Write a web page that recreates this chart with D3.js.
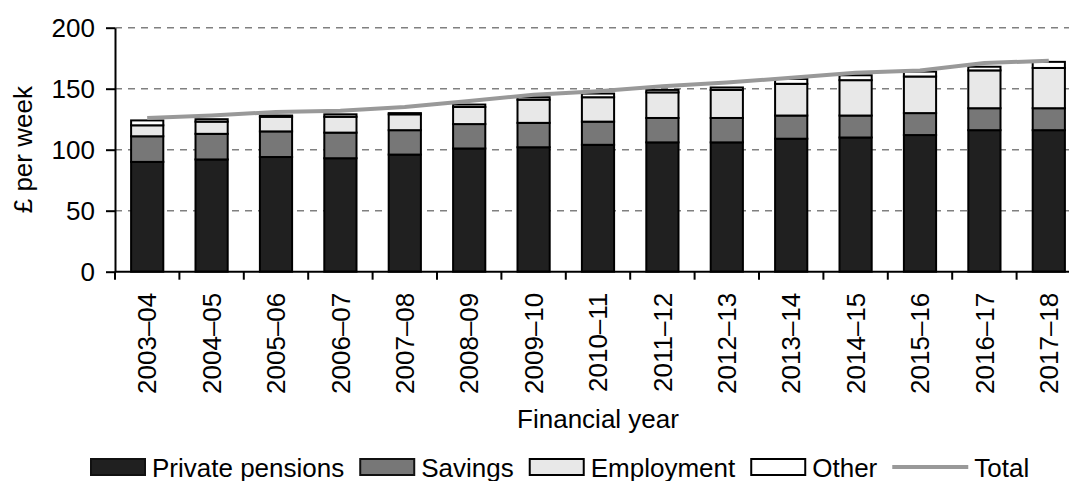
<!DOCTYPE html>
<html>
  <head>
    <meta charset="utf-8">
    <script src="https://d3js.org/d3.v7.min.js"></script>
    <title>Income sources</title>
    <style type="text/css">
      body { margin: 0; background: #fff; }
      svg { display: block; font-family: "Liberation Sans", Arial, sans-serif; }
      .grid line { stroke: #808080; stroke-width: 1.5; stroke-dasharray: 7 6; }
      .axis path, .axis line { stroke: #000; stroke-width: 2; }
      .axis text { font-size: 26px; fill: #000; font-family: "Liberation Sans", Arial, sans-serif; }
    </style>
  </head>
  <body>
    <div id="chart"></div>
    <script type="text/javascript">
      var years = ["2003–04", "2004–05", "2005–06", "2006–07", "2007–08", "2008–09", "2009–10",
                   "2010–11", "2011–12", "2012–13", "2013–14", "2014–15", "2015–16", "2016–17", "2017–18"];
      var privatePensions = [90, 92, 94, 93, 96, 101, 102, 104, 106, 106, 109, 110, 112, 116, 116];
      var savings = [21, 21, 21, 21, 20, 20, 20, 19, 20, 20, 19, 18, 18, 18, 18];
      var employment = [9, 10, 12, 13, 13, 14, 19, 20, 21, 23, 26, 29, 30, 31, 33];
      var other = [4, 2, 1, 2, 1, 2, 2, 3, 2, 2, 4, 4, 4, 3, 5];
      var total = [126, 128, 131, 132, 135, 140, 145, 148, 152, 155, 159, 163, 165, 171, 173];
      var yTicks = [0, 50, 100, 150, 200];

      var seriesNames = ["Private pensions", "Savings", "Employment", "Other"],
          seriesColors = ["#202020", "#777777", "#e8e8e8", "#ffffff"];

      var width = 1069, height = 481,
          plotLeft = 115, plotTop = 27.7, plotBottom = 271.7,
          step = 64.4;

      var rows = years.map(function(y, i) {
        return {year: y, "Private pensions": privatePensions[i], "Savings": savings[i],
                "Employment": employment[i], "Other": other[i], total: total[i]};
      });

      var x = d3.scaleBand().domain(years)
        .range([plotLeft, plotLeft + step * years.length])
        .paddingInner(0.5).paddingOuter(0.25);
      var y = d3.scaleLinear().domain([0, 200]).range([plotBottom, plotTop]);

      var svg = d3.select("#chart").append("svg")
        .attr("width", width)
        .attr("height", height);

      // dashed gridlines
      svg.append("g").attr("class", "grid")
        .selectAll("line")
        .data(yTicks.filter(function(d) { return d > 0; }))
        .enter().append("line")
          .attr("x1", plotLeft).attr("x2", width)
          .attr("y1", function(d) { return y(d); })
          .attr("y2", function(d) { return y(d); });

      var stack = d3.stack().keys(seriesNames)(rows);

      svg.append("g").selectAll("g")
        .data(stack)
        .enter().append("g")
          .attr("fill", function(d, i) { return seriesColors[i]; })
          .attr("stroke", "#000")
          .attr("stroke-width", 2)
        .selectAll("rect")
        .data(function(d) { return d; })
        .enter().append("rect")
          .attr("x", function(d) { return x(d.data.year); })
          .attr("width", x.bandwidth())
          .attr("y", function(d) { return y(d[1]); })
          .attr("height", function(d) { return y(d[0]) - y(d[1]); });

      var line = d3.line()
        .x(function(d) { return x(d.year) + x.bandwidth() / 2; })
        .y(function(d) { return y(d.total); });

      svg.append("path")
        .datum(rows)
        .attr("d", line)
        .attr("fill", "none")
        .attr("stroke", "#999999")
        .attr("stroke-width", 4);

      // y axis
      svg.append("g").attr("class", "axis")
        .attr("transform", "translate(" + plotLeft + ",0)")
        .call(d3.axisLeft(y).tickValues(yTicks).tickSize(9).tickPadding(11).tickSizeOuter(0));

      // x axis, ticks sit between the categories
      var xAxis = svg.append("g").attr("class", "axis");
      xAxis.append("line")
        .attr("x1", plotLeft).attr("x2", width)
        .attr("y1", plotBottom).attr("y2", plotBottom);
      xAxis.selectAll(".xt")
        .data(years)
        .enter().append("line")
          .attr("class", "xt")
          .attr("x1", function(d) { return x(d) - x.step() * 0.25; })
          .attr("x2", function(d) { return x(d) - x.step() * 0.25; })
          .attr("y1", plotBottom).attr("y2", plotBottom + 8);
      xAxis.selectAll("text")
        .data(years)
        .enter().append("text")
          .attr("transform", function(d) {
            return "translate(" + (x(d) + x.bandwidth() / 2) + "," + (plotBottom + 21) + ") rotate(-90)";
          })
          .attr("text-anchor", "end")
          .attr("dy", "0.35em")
          .text(function(d) { return d; });

      svg.append("text")
        .attr("x", (x.range()[0] + x.range()[1]) / 2).attr("y", 428)
        .attr("text-anchor", "middle")
        .style("font-size", "26px")
        .text("Financial year");

      svg.append("text")
        .attr("transform", "translate(32," + ((plotTop + plotBottom) / 2) + ") rotate(-90)")
        .attr("text-anchor", "middle")
        .style("font-size", "26px")
        .text("£ per week");

      // legend, laid out left to right
      var legendItems = [
        {name: "Private pensions", type: "rect", fill: seriesColors[0], stroke: "#111"},
        {name: "Savings", type: "rect", fill: seriesColors[1], stroke: "#111"},
        {name: "Employment", type: "rect", fill: seriesColors[2], stroke: "#000"},
        {name: "Other", type: "rect", fill: seriesColors[3], stroke: "#000"},
        {name: "Total", type: "line"}
      ];
      var legendG = svg.append("g").attr("transform", "translate(0,458)");
      var cursor = 90;
      legendItems.forEach(function(d) {
        var g = legendG.append("g").attr("transform", "translate(" + cursor + ",0)");
        var keyW;
        if (d.type === "rect") {
          keyW = 56;
          g.append("rect")
            .attr("x", 1).attr("y", 1)
            .attr("width", keyW - 2).attr("height", 16)
            .attr("fill", d.fill)
            .attr("stroke", d.stroke)
            .attr("stroke-width", 2);
        } else {
          keyW = 76;
          g.append("line")
            .attr("x1", 0).attr("x2", keyW)
            .attr("y1", 9).attr("y2", 9)
            .attr("stroke", "#999999")
            .attr("stroke-width", 4);
        }
        var t = g.append("text")
          .attr("x", keyW + 6)
          .attr("y", 18.5)
          .style("font-size", "26px")
          .text(d.name);
        cursor += keyW + 6 + t.node().getComputedTextLength() + 15;
      });
    </script>
  </body>
</html>
